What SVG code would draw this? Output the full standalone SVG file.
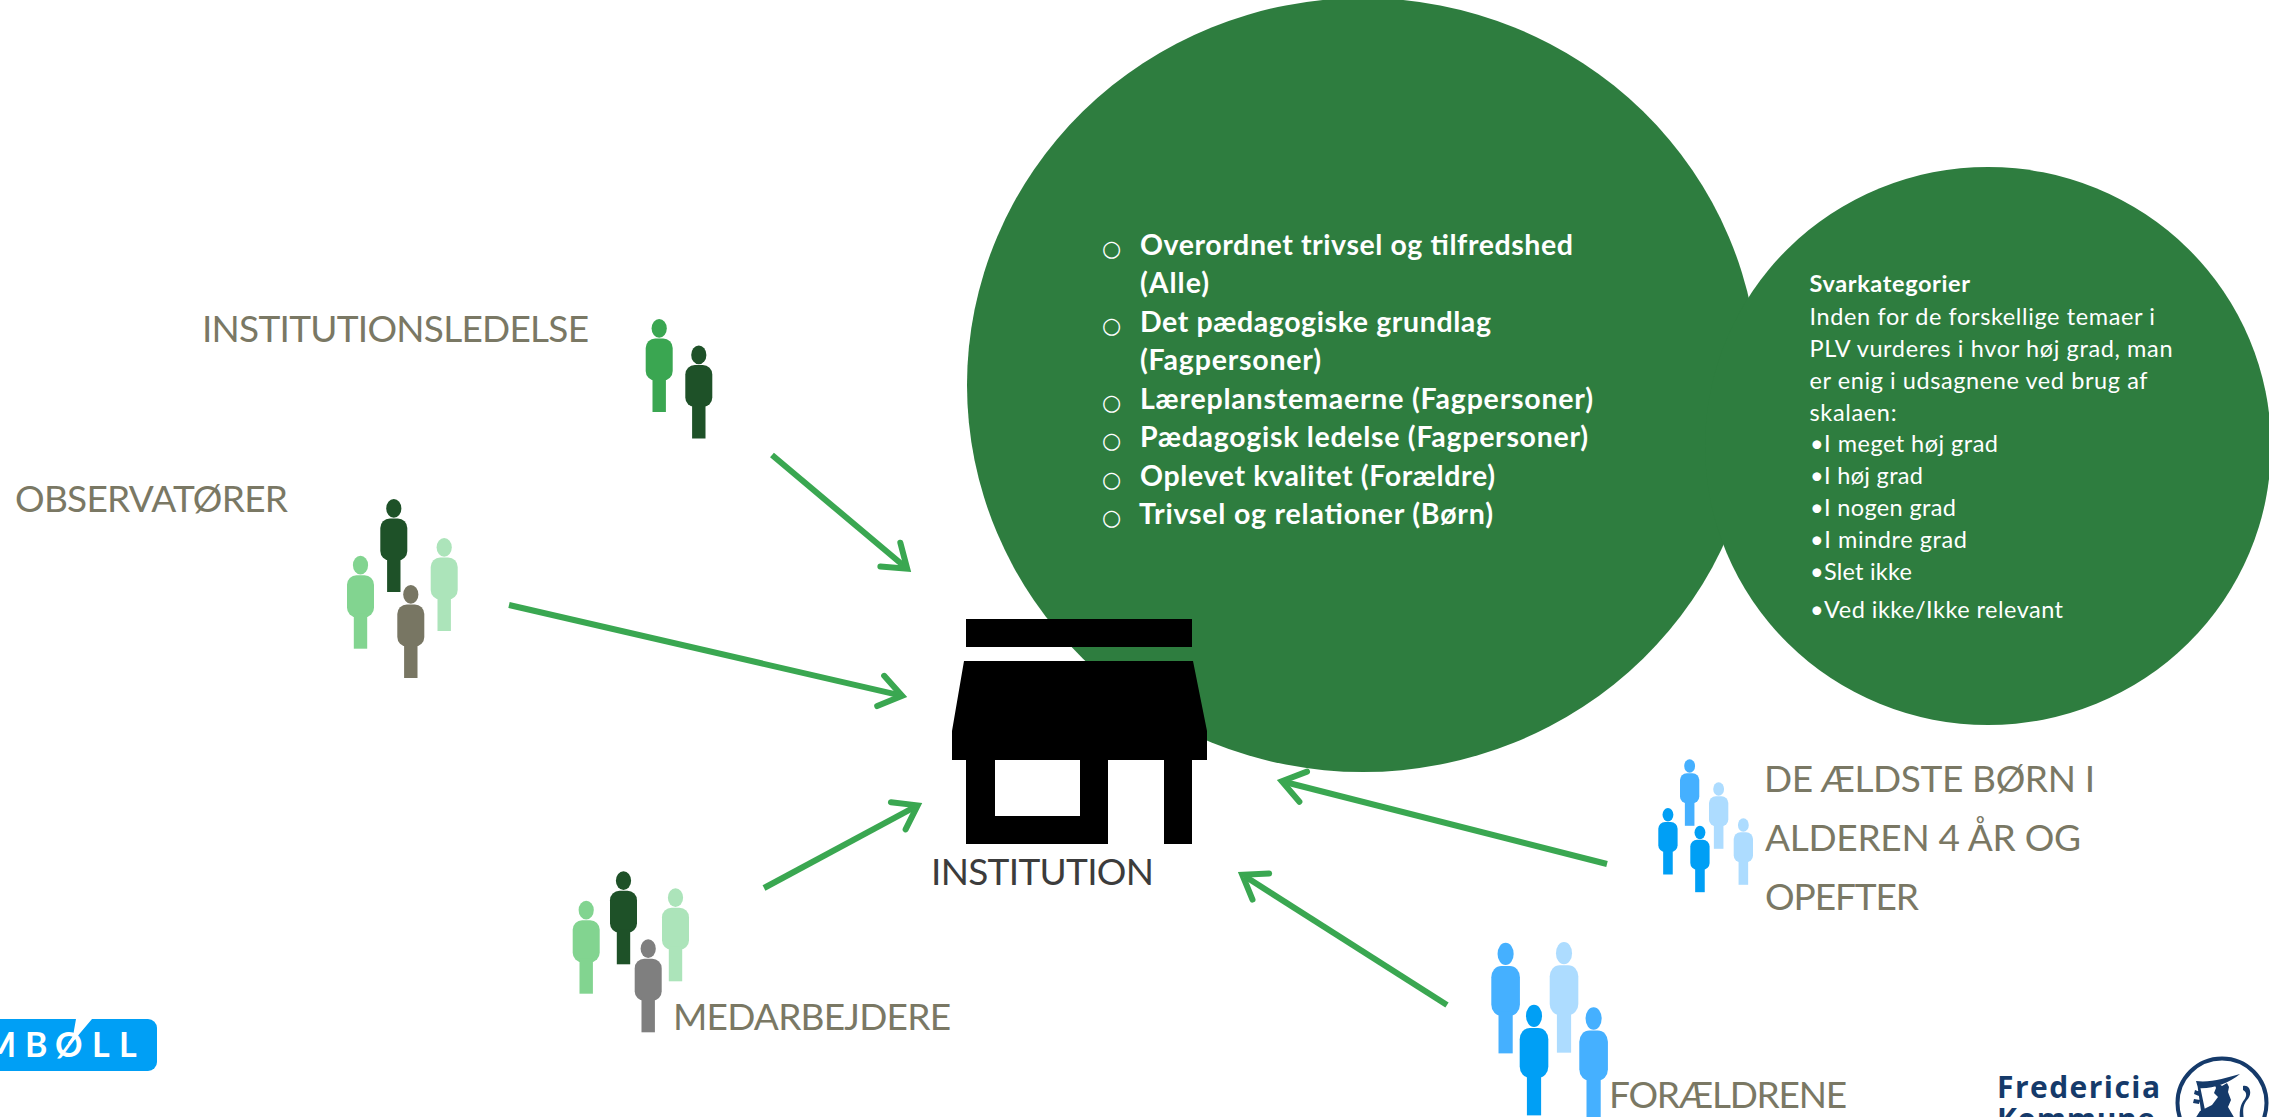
<svg xmlns="http://www.w3.org/2000/svg" width="2269" height="1117" viewBox="0 0 2269 1117">
<style>
text{font-family:Lato,"Open Sans","Liberation Sans",sans-serif}
.lab{font-size:37px;fill:#7a7864}
.dark{fill:#3c3c3c}
.li{font-size:28.5px;font-weight:700;fill:#fff}
.bul{font-size:22px;fill:#fff;font-family:"DejaVu Sans",sans-serif}
.sv{font-size:23.5px;fill:#fff}
.circ{fill:#2e7d3f}
.conn{fill:none;stroke:#3aa751;stroke-width:6;marker-end:url(#head)}
.navy{fill:#153a6a}
.c1{fill:#3aa651}.c2{fill:#1e5128}.c3{fill:#82d490}.c4{fill:#ace4ba}.c5{fill:#787663}.c6{fill:#7f7f7f}
.b1{fill:#009ff5}.b2{fill:#45b0ff}.b3{fill:#addcff}
</style>
<defs>
<marker id="head" markerUnits="userSpaceOnUse" viewBox="-30 -25 45 50" refX="0" refY="0" markerWidth="45" markerHeight="50" orient="auto" overflow="visible">
<path d="M-19,-15.5 L3,0 L-19,15.5" fill="none" stroke="#3aa751" stroke-width="6" stroke-linecap="round" stroke-linejoin="miter" stroke-miterlimit="8"/>
</marker>
<g id="p">
<ellipse cx="13.5" cy="9.4" rx="7.6" ry="9.4"/>
<rect x="0" y="19.5" width="27" height="42" rx="9.5"/>
<rect x="6.8" y="58" width="13.4" height="35"/>
</g>
</defs>
<rect width="2269" height="1117" fill="#fff"/>

<g id="circle-main"><ellipse class="circ" cx="1363" cy="385" rx="396" ry="387"/>
<text class="bul" x="1102" y="255.5">○</text><text class="li" x="1140" y="254.5" textLength="433">Overordnet trivsel og tilfredshed</text>
<text class="li" x="1140" y="293" textLength="69">(Alle)</text>
<text class="bul" x="1102" y="332.5">○</text><text class="li" x="1140" y="331.5" textLength="351">Det pædagogiske grundlag</text>
<text class="li" x="1140" y="370" textLength="181">(Fagpersoner)</text>
<text class="bul" x="1102" y="409.5">○</text><text class="li" x="1140" y="408.5" textLength="453">Læreplanstemaerne (Fagpersoner)</text>
<text class="bul" x="1102" y="448">○</text><text class="li" x="1140" y="447" textLength="448">Pædagogisk ledelse (Fagpersoner)</text>
<text class="bul" x="1102" y="486.5">○</text><text class="li" x="1140" y="485.5" textLength="355">Oplevet kvalitet (Forældre)</text>
<text class="bul" x="1102" y="525">○</text><text class="li" x="1139" y="524" textLength="354">Trivsel og relationer (Børn)</text>
</g>

<g id="circle-svar"><ellipse class="circ" cx="1988" cy="446" rx="283" ry="279"/>
<text class="sv" x="1809.5" y="292" font-weight="700" textLength="160.5">Svarkategorier</text>
<text class="sv" x="1809.5" y="324.5" textLength="345.5">Inden for de forskellige temaer i</text>
<text class="sv" x="1809.5" y="356.5" textLength="363">PLV vurderes i hvor høj grad, man</text>
<text class="sv" x="1809.5" y="388.5" textLength="338">er enig i udsagnene ved brug af</text>
<text class="sv" x="1809.5" y="420.5" textLength="87">skalaen:</text>
<text class="sv" x="1810" y="452" textLength="188">•I meget høj grad</text>
<text class="sv" x="1810" y="484" textLength="113">•I høj grad</text>
<text class="sv" x="1810" y="516" textLength="146">•I nogen grad</text>
<text class="sv" x="1810" y="548" textLength="157">•I mindre grad</text>
<text class="sv" x="1810" y="580" textLength="102">•Slet ikke</text>
<text class="sv" x="1810" y="618" textLength="253">•Ved ikke/Ikke relevant</text>
</g>

<g id="institution">
<rect x="966" y="619" width="226" height="28"/>
<path fill-rule="evenodd" d="M964,661H1193L1207,731V760H1192V844H1164V760H1108V844H966V760H952V731ZM995,760V816H1080V760Z"/>
<text class="lab dark" x="931" y="885" textLength="223">INSTITUTION</text>
</g>

<g id="connectors">
<path class="conn" d="M772,455L904.9,566.8"/>
<path class="conn" d="M509,605L899.2,695.2"/>
<path class="conn" d="M764,888L915,806.8"/>
<path class="conn" d="M1607,864L1284.8,782"/>
<path class="conn" d="M1447,1005L1244.8,876.3"/>
</g>

<g id="institutionsledelse">
<text class="lab" x="202" y="342" textLength="387">INSTITUTIONSLEDELSE</text>
<use href="#p" class="c1" transform="translate(645.7,319)"/>
<use href="#p" class="c2" transform="translate(685.3,345.5)"/>
</g>

<g id="observatorer">
<text class="lab" x="15" y="512" textLength="273">OBSERVATØRER</text>
<use href="#p" class="c2" transform="translate(380.3,499)"/>
<use href="#p" class="c3" transform="translate(347,555.7)"/>
<use href="#p" class="c4" transform="translate(430.7,538)"/>
<use href="#p" class="c5" transform="translate(397.3,585)"/>
</g>

<g id="medarbejdere">
<text class="lab" x="673" y="1030" textLength="278">MEDARBEJDERE</text>
<use href="#p" class="c3" transform="translate(572.7,900.7)"/>
<use href="#p" class="c2" transform="translate(610,871.3)"/>
<use href="#p" class="c4" transform="translate(662,888.3)"/>
<use href="#p" class="c6" transform="translate(634.7,939.3)"/>
</g>

<g id="born">
<text class="lab" x="1764" y="792" textLength="331">DE ÆLDSTE BØRN I</text>
<text class="lab" x="1765" y="851" textLength="316">ALDEREN 4 ÅR OG</text>
<text class="lab" x="1765" y="910" textLength="154">OPEFTER</text>
<use href="#p" class="b2" transform="translate(1680,759.3) scale(.715)"/>
<use href="#p" class="b3" transform="translate(1709,782.3) scale(.715)"/>
<use href="#p" class="b1" transform="translate(1658.3,808) scale(.715)"/>
<use href="#p" class="b1" transform="translate(1690.3,825.7) scale(.715)"/>
<use href="#p" class="b3" transform="translate(1733.7,818.3) scale(.715)"/>
</g>

<g id="foraeldrene">
<text class="lab" x="1609" y="1108" textLength="238">FORÆLDRENE</text>
<use href="#p" class="b2" transform="translate(1491.3,942.7) scale(1.06,1.19)"/>
<use href="#p" class="b3" transform="translate(1549.7,942) scale(1.06,1.19)"/>
<use href="#p" class="b1" transform="translate(1519.7,1004.7) scale(1.06,1.19)"/>
<use href="#p" class="b2" transform="translate(1579.3,1007.3) scale(1.06,1.19)"/>
</g>

<g id="logo-ramboll">
<rect x="-20" y="1019" width="177" height="52" rx="9" fill="#009ff5"/>
<text y="1057" font-size="34" font-weight="700" fill="#fff" x="-16 25 55 92 119">MBØLL</text>
<path d="M76,1019H92L70,1045L68,1043L73,1036Z" fill="#fff"/>
</g>

<g id="logo-fredericia">
<text class="navy" x="1997" y="1098" font-size="30" font-weight="700" textLength="163" style="font-family:'Open Sans',sans-serif">Fredericia</text>
<text class="navy" x="1997" y="1130" font-size="30" font-weight="700" textLength="158" style="font-family:'Open Sans',sans-serif">Kommune</text>
<circle cx="2222" cy="1103" r="44.5" fill="#fff" stroke="#153a6a" stroke-width="4"/>
<path class="navy" d="M2196,1081C2210,1083 2226,1078 2240,1074C2228,1084 2212,1089 2198,1088ZM2197,1082L2200,1086L2205,1110L2201,1111ZM2195,1090l5,2l-1,4l-5,-2zM2194,1099l6,1l-1,4l-6,-1zM2218,1083l4,3l5,-3l2,4l-1,5l3,8l-3,7l7,12h-40l5,-8l12,-6l6,-8l-4,-4l2,-5l-1,-3zM2243,1086c7,-2 10,8 4,14c-3,4 -5,8 -3,20h-4c-1,-10 1,-16 4,-20c3,-4 3,-8 -1,-10z"/>
</g>
</svg>
